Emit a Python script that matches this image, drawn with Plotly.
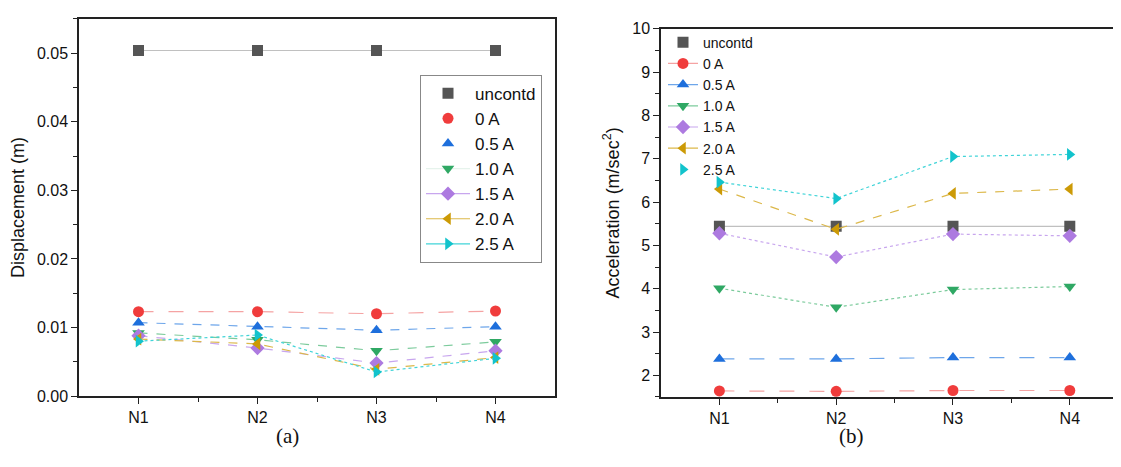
import plotly.graph_objects as go

categories = ["N1", "N2", "N3", "N4"]
series_names = ["uncontd", "0 A", "0.5 A", "1.0 A", "1.5 A", "2.0 A", "2.5 A"]

disp_uncontd = [0.0504, 0.0504, 0.0504, 0.0504]
disp_0A = [0.0123, 0.0123, 0.0120, 0.0124]
disp_05A = [0.0107, 0.0101, 0.0096, 0.0101]
disp_10A = [0.0092, 0.0082, 0.0066, 0.0079]
disp_15A = [0.0088, 0.0070, 0.0048, 0.0066]
disp_20A = [0.0083, 0.0076, 0.0039, 0.0056]
disp_25A = [0.0080, 0.0089, 0.0035, 0.0055]

acc_uncontd = [5.44, 5.44, 5.44, 5.44]
acc_0A = [1.64, 1.63, 1.65, 1.65]
acc_05A = [2.38, 2.38, 2.41, 2.41]
acc_10A = [4.01, 3.57, 3.98, 4.05]
acc_15A = [5.28, 4.73, 5.26, 5.22]
acc_20A = [6.30, 5.37, 6.20, 6.30]
acc_25A = [6.46, 6.08, 7.05, 7.10]

disp_yticks = [0.00, 0.01, 0.02, 0.03, 0.04, 0.05]
acc_yticks = [2, 3, 4, 5, 6, 7, 8, 9, 10]

# figure size and the measured mapping from target picture pixels to figure pixels
OFF = 8
W, H = 1121 - 2 * OFF, 467 - 2 * OFF
SY, BY = 0.98, 7.0


def fx(x):
    return x - OFF


def fy(y):
    return (y - BY) / SY


def px(x):
    return max(0.0, min(1.0, fx(x) / W))


def pyf(f):
    return max(0.0, min(1.0, 1 - f / H))


def py(y):
    return pyf(fy(y))


FONT = "Liberation Sans, Arial, sans-serif"

marker_colors = ["#555555", "#f03c3c", "#1e6fdc", "#2fa864", "#ad7ae0", "#cc9a06", "#12c3cc"]
line_colors = ["#c0c0c0", "#f5a3a3", "#6ea6ea", "#7ccb9c", "#c8a6ee", "#dcb84a", "#40d4d8"]
symbols = ["square", "circle", "triangle-up", "triangle-down", "diamond", "triangle-left", "triangle-right"]
dash_left = ["solid", "longdash", "dash", "dash", "dash", "dash", "dot"]
dash_right = ["solid", "longdash", "longdash", "dot", "dot", "dash", "dot"]

disp_data = [disp_uncontd, disp_0A, disp_05A, disp_10A, disp_15A, disp_20A, disp_25A]
acc_data = [acc_uncontd, acc_0A, acc_05A, acc_10A, acc_15A, acc_20A, acc_25A]

xs = list(range(len(categories)))
fig = go.Figure()

for i, name in enumerate(series_names):
    fig.add_trace(go.Scatter(
        x=xs, y=disp_data[i], mode="lines+markers", name=name, showlegend=False,
        line=dict(color=line_colors[i], width=1.2, dash=dash_left[i]),
        marker=dict(symbol=symbols[i], size=11, color=marker_colors[i]),
        xaxis="x", yaxis="y"))
    fig.add_trace(go.Scatter(
        x=xs, y=acc_data[i], mode="lines+markers", name=name, showlegend=False,
        line=dict(color=line_colors[i], width=1.2, dash=dash_right[i]),
        marker=dict(symbol=symbols[i], size=11, color=marker_colors[i]),
        xaxis="x2", yaxis="y2"))

left_modes = ["markers", "markers", "markers", "lines+markers", "lines+markers", "lines+markers", "lines+markers"]
right_modes = ["markers", "lines+markers", "lines+markers", "lines+markers", "lines+markers", "lines+markers", "markers"]
for i, name in enumerate(series_names):
    fig.add_trace(go.Scatter(
        x=[None], y=[None], mode=left_modes[i], name=name, legend="legend",
        line=dict(color=line_colors[i] if i != 3 else "#e6f3ec", width=1.2),
        marker=dict(symbol=symbols[i], size=11, color=marker_colors[i]),
        xaxis="x", yaxis="y"))
    fig.add_trace(go.Scatter(
        x=[None], y=[None], mode=right_modes[i], name=name, legend="legend2",
        line=dict(color=line_colors[i], width=1.2),
        marker=dict(symbol=symbols[i], size=11, color=marker_colors[i]),
        xaxis="x2", yaxis="y2"))

axis_common = dict(showline=True, linecolor="#222222", linewidth=1.5, ticks="outside",
                   ticklen=6, tickwidth=1.2, tickcolor="#222222", showgrid=False, zeroline=False,
                   tickfont=dict(family=FONT, size=16, color="#111111"))
minor_common = dict(ticklen=4, tickwidth=1.2, tickcolor="#222222", ticks="outside")

fig.update_layout(
    width=W, height=H,
    margin=dict(l=0, r=0, t=0, b=0),
    paper_bgcolor="white", plot_bgcolor="white",
    xaxis=dict(domain=[px(79), px(555)], range=[-0.5, 3.5], tickvals=xs, ticktext=categories,
               mirror=True, anchor="y",
               minor=dict(tickvals=[0.5, 1.5, 2.5], **minor_common),
               **axis_common),
    yaxis=dict(domain=[py(394), py(10)], range=[0, 0.055], tickvals=disp_yticks,
               tickformat=".2f", mirror=True, anchor="x",
               minor=dict(dtick=0.005, tick0=0, **minor_common),
               title=dict(text="Displacement (m)", font=dict(family=FONT, size=18, color="#111111"), standoff=8),
               **axis_common),
    xaxis2=dict(domain=[px(661), 1.0], range=[-0.5, 3.37], tickvals=xs, ticktext=categories,
                mirror=True, anchor="y2",
                minor=dict(tickvals=[0.5, 1.5, 2.5], **minor_common),
                **axis_common),
    yaxis2=dict(domain=[py(395), py(20)], range=[1.5, 10], tickvals=acc_yticks,
                anchor="x2",
                minor=dict(dtick=0.5, tick0=0, **minor_common),
                title=dict(text="Acceleration (m/sec<sup>2</sup>)", font=dict(family=FONT, size=18, color="#111111"), standoff=8),
                **axis_common),
    legend=dict(x=px(420), y=pyf(61), xanchor="left", yanchor="top",
                bgcolor="white", bordercolor="#888888", borderwidth=1, itemwidth=44,
                font=dict(family=FONT, size=17, color="#111111"), tracegroupgap=0),
    legend2=dict(x=px(662), y=pyf(10), xanchor="left", yanchor="top",
                 bgcolor="rgba(255,255,255,0)", bordercolor="rgba(0,0,0,0)", borderwidth=1,
                 font=dict(family=FONT, size=14, color="#111111"), tracegroupgap=0),
    annotations=[
        dict(text="(a)", x=px(274), y=0, xref="paper", yref="paper", showarrow=False, yanchor="bottom",
             font=dict(family="Liberation Serif, Times New Roman, serif", size=21, color="#111111")),
        dict(text="(b)", x=px(866), y=0, xref="paper", yref="paper", showarrow=False, yanchor="bottom",
             font=dict(family="Liberation Serif, Times New Roman, serif", size=21, color="#111111")),
    ],
)

fig.write_html("out.html")
